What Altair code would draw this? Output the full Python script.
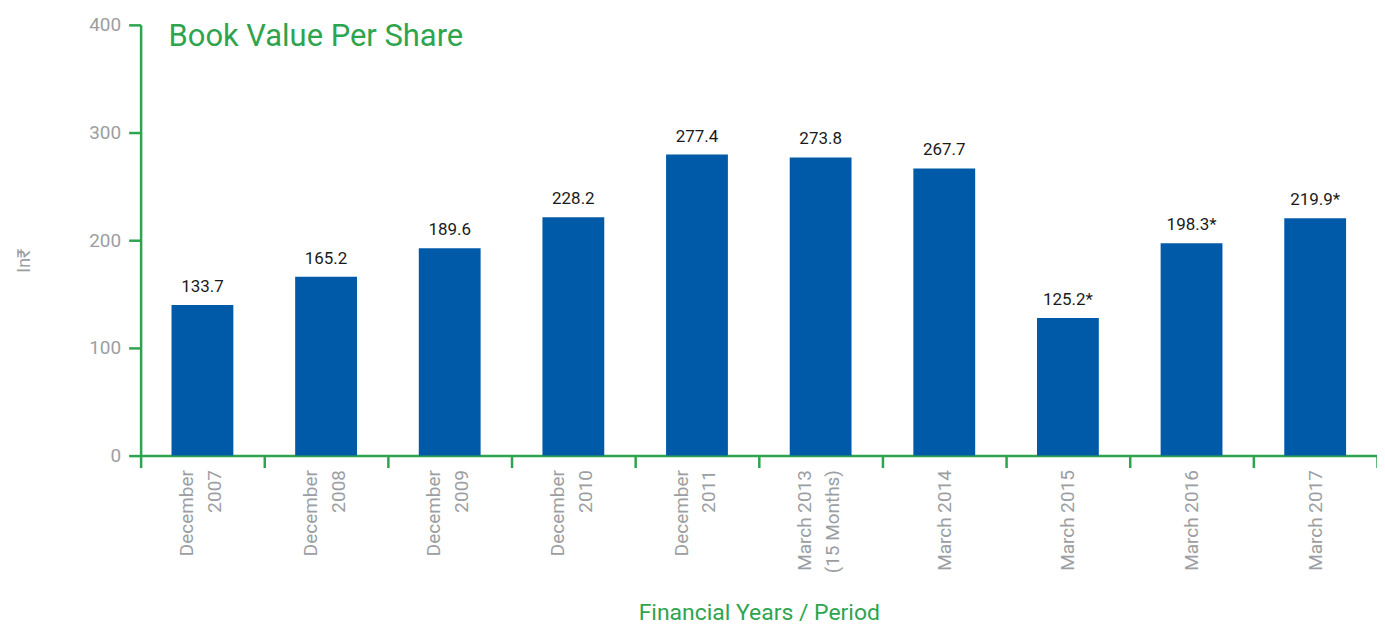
import altair as alt
import pandas as pd

categories = [
    "December|2007", "December|2008", "December|2009", "December|2010",
    "December|2011", "March 2013|(15 Months)", "March 2014", "March 2015",
    "March 2016", "March 2017",
]
bar_values = [139.8, 166.0, 192.6, 221.3, 279.6, 276.9, 266.7, 127.8, 197.2, 220.4]
bar_labels = ["133.7", "165.2", "189.6", "228.2", "277.4", "273.8", "267.7",
              "125.2*", "198.3*", "219.9*"]
y_ticks = [0, 100, 200, 300, 400]

GREEN = "#2ea44f"
BLUE = "#005aa8"
GRAY = "#9b9ea2"
FONT = "Roboto, Liberation Sans, sans-serif"

df = pd.DataFrame({"cat": categories, "val": bar_values, "lab": bar_labels})

x = alt.X(
    "cat:N", sort=None, title="Financial Years / Period",
    scale=alt.Scale(paddingInner=0, paddingOuter=0),
    axis=alt.Axis(
        labelAngle=-90, labelAlign="right", labelBaseline="middle",
        labelExpr="split(datum.label, '|')", labelLineHeight=28,
        labelOffset={"condition": {"test": "indexof(datum.label, '|') >= 0", "value": -16}, "value": 0},
        labelColor=GRAY, labelFont=FONT, labelFontSize=19, labelPadding=2,
        tickBand="extent", tickSize=12, tickColor=GREEN, tickWidth=2.5,
        domainColor=GREEN, domainWidth=2.5,
        titleColor=GREEN, titleFont=FONT, titleFontSize=23, titleFontWeight="normal",
        titleY=157, titleBaseline="middle",
    ),
)
y = alt.Y(
    "val:Q", title="In₹",
    scale=alt.Scale(domain=[0, 400], nice=False),
    axis=alt.Axis(
        values=y_ticks, grid=False, labelColor=GRAY, labelFont=FONT,
        labelFontSize=19, labelPadding=8, tickSize=12, tickColor=GREEN,
        tickWidth=2.5, domainColor=GREEN, domainWidth=2.5,
        titleColor=GRAY, titleFont=FONT, titleFontSize=18, titleFontWeight="normal",
        titleX=-116, titleY=236, titleAngle=270, titleAlign="center",
        titleBaseline="middle",
    ),
)

base = alt.Chart(df)
bars = base.mark_bar(color=BLUE, width=alt.RelativeBandSize(0.5)).encode(x=x, y=y)
texts = base.mark_text(
    baseline="alphabetic", dy=-13, font=FONT, fontSize=17, color="#1a1a1a"
).encode(x=alt.X("cat:N", sort=None), y="val:Q", text="lab:N")

title = alt.Chart(pd.DataFrame({"t": ["Book Value Per Share"]})).mark_text(
    align="left", baseline="alphabetic", font=FONT, fontSize=31, color=GREEN
).encode(x=alt.value(28), y=alt.value(21), text="t:N")

chart = alt.layer(bars, texts, title).properties(
    width=1240, height=432,
    autosize=alt.AutoSizeParams(type="none"),
    padding={"left": 133, "top": 16, "right": 0, "bottom": 172},
).configure_view(stroke=None)

chart.save("out.html", embed_options={"renderer": "svg", "actions": False})
